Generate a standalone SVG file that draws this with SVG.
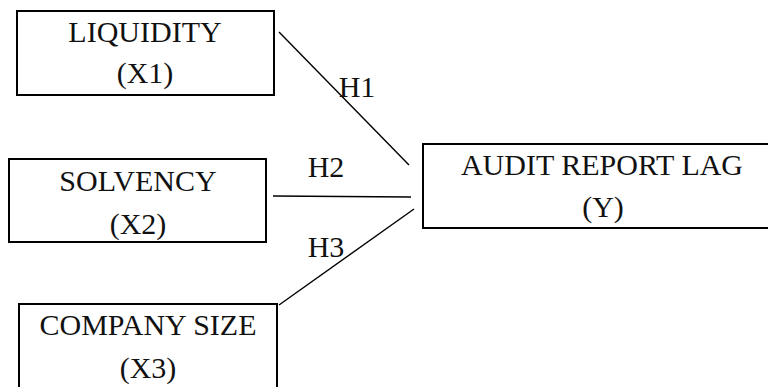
<svg xmlns="http://www.w3.org/2000/svg" width="768" height="387" viewBox="0 0 768 387">
<style>
.box{fill:#fff;stroke:#000;stroke-width:2}
.t{font-family:"Liberation Serif","Times New Roman",serif;font-size:30px;fill:#111;text-anchor:middle}
.c line{stroke:#000;stroke-width:1.4}
</style>
<rect width="768" height="387" fill="#fff"/>
<g id="liquidity">
<rect class="box" x="17" y="11" width="257" height="84"/>
<text class="t" x="145" y="42">LIQUIDITY</text>
<text class="t" x="145" y="83">(X1)</text>
</g>
<g id="solvency">
<rect class="box" x="9" y="159" width="257" height="83"/>
<text class="t" x="138" y="191">SOLVENCY</text>
<text class="t" x="138" y="234">(X2)</text>
</g>
<g id="company-size">
<rect class="box" x="19" y="304" width="258" height="100"/>
<text class="t" x="148" y="335">COMPANY SIZE</text>
<text class="t" x="148" y="378">(X3)</text>
</g>
<g id="audit-report-lag">
<rect class="box" x="423" y="144" width="370" height="84"/>
<text class="t" x="602" y="175">AUDIT REPORT LAG</text>
<text class="t" x="603" y="217">(Y)</text>
</g>
<g id="connectors" class="c">
<line x1="279" y1="32" x2="409" y2="165"/>
<line x1="273" y1="196" x2="411" y2="197"/>
<line x1="279" y1="305" x2="414" y2="209"/>
<text class="t" x="357" y="97">H1</text>
<text class="t" x="326" y="177">H2</text>
<text class="t" x="326" y="257">H3</text>
</g>
</svg>
